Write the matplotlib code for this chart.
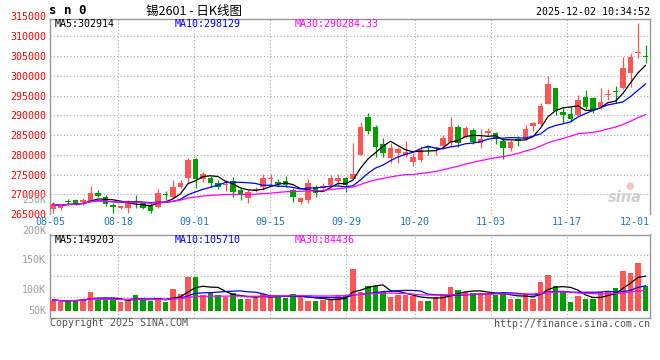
import matplotlib
matplotlib.use('Agg')
import matplotlib.pyplot as plt
import numpy as np
import pandas as pd
from matplotlib.transforms import blended_transform_factory

# daily candles, tin 2601, 08-05 .. 12-02
opens = [266180, 266500, 268100, 268550, 267950, 268290, 270400, 269300, 267360, 266600,
         266600, 268380, 267700, 267030, 266690, 270000, 269390, 271920, 274030, 278930,
         273860, 274030, 272770, 272400, 273360, 271080, 268970, 271000, 271750, 273900,
         273020, 273270, 271080, 268120, 268550, 271920, 271500, 272340, 273440, 274200,
         273780, 279940, 289650, 287110, 282720, 279100, 280530, 279940, 278250, 278670,
         282050, 281630, 282220, 282890, 287110, 284580, 286270, 283060, 285580, 285420,
         283570, 281800, 283910, 283910, 287280, 287790, 292850, 296820, 290910, 290320,
         290070, 294710, 294290, 292010, 295130, 296000, 296820, 300780, 305850, 304750]
closes = [267450, 266900, 267950, 267530, 268550, 270400, 269640, 267530, 266860, 266900,
          268380, 267870, 266600, 265760, 270230, 269810, 271840, 272920, 278670, 273860,
          275040, 272930, 271920, 272600, 270660, 269810, 270660, 271200, 274030, 274050,
          272600, 272340, 269220, 268970, 272770, 270400, 272090, 274200, 274200, 272340,
          275130, 287110, 286020, 282050, 280360, 281630, 281460, 280780, 279520, 281210,
          281800, 281900, 284330, 286940, 283060, 286860, 283320, 284080, 286020, 283910,
          281630, 283320, 283570, 286440, 287960, 292350, 297920, 291170, 290070, 288970,
          293870, 292010, 291330, 293440, 295300, 295800, 301880, 304670, 306100, 304670]
highs = [268120, 267400, 268700, 268800, 269140, 272180, 271080, 269810, 267700, 267300,
         268550, 269810, 268120, 267700, 271330, 270910, 273610, 273610, 279100, 279100,
         275720, 274620, 273610, 273610, 274450, 271500, 271080, 271920, 275130, 275130,
         273780, 274620, 271500, 269390, 273780, 272340, 272770, 274880, 275040, 274450,
         283060, 288380, 290660, 287540, 284160, 282890, 282050, 283570, 280360, 282220,
         282220, 282050, 285000, 289650, 287540, 287280, 286690, 286440, 286690, 285680,
         284160, 283740, 284750, 287540, 288380, 293020, 299940, 296820, 291760, 292350,
         295130, 296400, 294710, 296820, 296570, 297410, 304670, 305680, 313280, 307790]
lows = [265170, 266100, 267280, 267280, 267280, 268120, 269390, 267030, 265170, 266200,
        265170, 266440, 266180, 265170, 266440, 268550, 268970, 271500, 272770, 271500,
        273190, 271920, 271250, 270900, 269390, 268550, 267870, 270660, 271080, 272340,
        271920, 271920, 268120, 267450, 267870, 269390, 270910, 271920, 272340, 270660,
        273780, 279940, 285170, 279520, 279350, 278000, 278000, 279520, 277240, 278250,
        279940, 279940, 282050, 282050, 282050, 284160, 282720, 281630, 284750, 282720,
        278840, 280950, 282220, 283740, 286100, 287540, 292850, 290070, 288130, 288380,
        289810, 291500, 290490, 291500, 293870, 293190, 296570, 297240, 304580, 303150]
volumes = [48000, 38100, 45200, 45200, 52200, 80400, 48000, 48000, 45200, 38100,
           48000, 67700, 45200, 40900, 55000, 38100, 93100, 72000, 145300, 145300,
           67700, 74800, 67700, 60700, 74800, 50800, 50800, 60700, 72000, 60700,
           63500, 56400, 72000, 63500, 42300, 42300, 45200, 48000, 67700, 63500,
           179200, 80400, 105800, 105800, 80400, 59300, 66300, 66300, 63500, 42300,
           42300, 59300, 73400, 101600, 90300, 80400, 77600, 76200, 76200, 69100,
           70600, 52200, 52200, 72000, 52200, 122800, 153800, 105800, 80400, 38100,
           63500, 52200, 52200, 80400, 80400, 97400, 169300, 160900, 203200, 105800]

date_labels = ['08-05', '08-18', '09-01', '09-15', '09-29', '10-20', '11-03', '11-17', '12-01']
date_index = [0, 9, 19, 29, 39, 48, 58, 68, 78]
price_ticks = [265000, 270000, 275000, 280000, 285000, 290000, 295000, 300000, 305000, 310000]

RED = '#ff5555'
GREEN = '#00a000'
GRID = '#aaaaaa'
BORDER = '#999999'
FS = 7.2

plt.rcParams['font.family'] = ['DejaVu Sans Mono']

W, H = 660, 360


def fx(x):
    return x / W


def fy(y):
    return 1 - y / H


fig = plt.figure(figsize=(6.6, 3.6), dpi=100)
ax = fig.add_axes([fx(50), fy(214), 600 / W, 195 / H])
axv = fig.add_axes([fx(50), fy(318), 600 / W, 83.5 / H])

n = len(closes)
x = np.arange(n)
o = np.array(opens)
c = np.array(closes)
up = c >= o
colors = np.where(up, RED, GREEN)

# candles
ax.vlines(x, lows, highs, colors=colors, linewidth=0.9, zorder=3)
body = np.maximum(np.abs(c - o), 260)
ax.bar(x, body, bottom=np.minimum(o, c), width=0.74, color=colors, zorder=4)

close_s = pd.Series(closes)
ma_styles = [(5, 'black'), (10, '#0000ff'), (30, '#ff00ff')]
for win, col in ma_styles:
    ax.plot(x, close_s.rolling(win, min_periods=1).mean(), color=col, lw=0.9, zorder=5)

ax.set_xlim(-0.4, n - 0.4)
ax.set_ylim(265000, 314374)

# sina spaces its date grid a little wider than the candles
grid_x = np.array(date_index) * 7.6 / 7.5 - 0.4

for g in grid_x[1:-1]:
    ax.axvline(g, color=GRID, lw=0.8, ls=(0, (1, 2)), zorder=1)
    axv.axvline(g, color=GRID, lw=0.8, ls=(0, (1, 2)), zorder=1)
for p in price_ticks[1:]:
    ax.axhline(p, color=GRID, lw=0.8, ls=(0, (1, 2)), zorder=1)

ax.set_xticks([])
ax.set_yticks(price_ticks)
ax.set_yticklabels([str(p) for p in price_ticks], color='#ff0000', fontsize=FS)
ax.tick_params(axis='y', length=0, pad=3)
ax.text(-0.0067, 315000, '315000', transform=blended_transform_factory(ax.transAxes, ax.transData),
        ha='right', va='center', color='#ff0000', fontsize=FS, clip_on=False)
ax.text(-0.0067, (214 - 200.3) / 195, '250K', transform=ax.transAxes, ha='right', va='center',
        color='#a0a0a0', fontsize=FS)

trans = blended_transform_factory(ax.transData, ax.transAxes)
for g, lab in zip(grid_x, date_labels):
    if lab == date_labels[-1]:
        ax.text(n - 0.4, -0.04, lab, transform=trans, ha='right', va='center',
                color='#1e78c8', fontsize=FS)
    else:
        ax.text(g, -0.04, lab, transform=trans, ha='center', va='center',
                color='#1e78c8', fontsize=FS)

for sp in ax.spines.values():
    sp.set_color(BORDER)
    sp.set_linewidth(1)
ax.spines['bottom'].set_visible(False)
ax.spines['left'].set_linestyle((0, (1, 1)))

ax.text(0.007, 0.975, 'MA5:302914', transform=ax.transAxes, ha='left', va='center',
        color='black', fontsize=FS)
ax.text(0.208, 0.975, 'MA10:298129', transform=ax.transAxes, ha='left', va='center',
        color='#0000ff', fontsize=FS)
ax.text(0.408, 0.975, 'MA30:290284.33', transform=ax.transAxes, ha='left', va='center',
        color='#ff00ff', fontsize=FS)

# volume panel
axv.bar(x, volumes, width=0.74, color=colors, zorder=3)
vol_s = pd.Series(volumes)
for win, col in ma_styles:
    axv.plot(x, vol_s.rolling(win, min_periods=1).mean(), color=col, lw=0.9, zorder=4)
axv.set_xlim(-0.4, n - 0.4)
vlo, vhi = -29600, 323800
axv.set_ylim(vlo, vhi)
for f in [0.25, 0.5, 0.75]:
    axv.axhline(vlo + f * (vhi - vlo), color=GRID, lw=0.8, ls=(0, (1, 2)), zorder=1)
axv.set_xticks([])
axv.set_yticks([])
for lab, yy in [('200K', 230.5), ('150K', 260), ('100K', 290), ('50K', 310.7)]:
    axv.text(-0.0067, (318 - yy) / 83.5, lab, transform=axv.transAxes, ha='right',
             va='center', color='#a0a0a0', fontsize=FS)
for sp in axv.spines.values():
    sp.set_color(BORDER)
    sp.set_linewidth(1)

axv.text(0.008, 0.93, 'MA5:149203', transform=axv.transAxes, ha='left', va='center',
         color='black', fontsize=FS)
axv.text(0.208, 0.93, 'MA10:105710', transform=axv.transAxes, ha='left', va='center',
         color='#0000ff', fontsize=FS)
axv.text(0.408, 0.93, 'MA30:84436', transform=axv.transAxes, ha='left', va='center',
         color='#ff00ff', fontsize=FS)

# header and footer
fig.text(fx(49), fy(10.5), 's n 0', ha='left', va='center', fontsize=9, fontweight='bold')
fig.text(fx(194), fy(11), '锡2601 - 日K线图', ha='center', va='center', fontsize=9,
         family=['Noto Sans CJK SC', 'DejaVu Sans'])
fig.text(fx(650), fy(12), '2025-12-02 10:34:52', ha='right', va='center', fontsize=FS)
fig.text(fx(50), fy(323.5), 'Copyright 2025 SINA.COM', ha='left', va='center',
         fontsize=FS, color='#555555')
fig.text(fx(650), fy(324), 'http://finance.sina.com.cn', ha='right', va='center',
         fontsize=FS, color='#555555')

# watermark
fig.text(fx(625), fy(197), 'sina', ha='center', va='center', fontsize=10.5,
         fontweight='bold', style='italic', color='#cfcfcf', family=['DejaVu Sans'])
fig.text(fx(630), fy(186), '●', ha='center', va='center', fontsize=7, color='#f6c4c4',
         family=['DejaVu Sans'])

fig.savefig('out.png', dpi=100)
